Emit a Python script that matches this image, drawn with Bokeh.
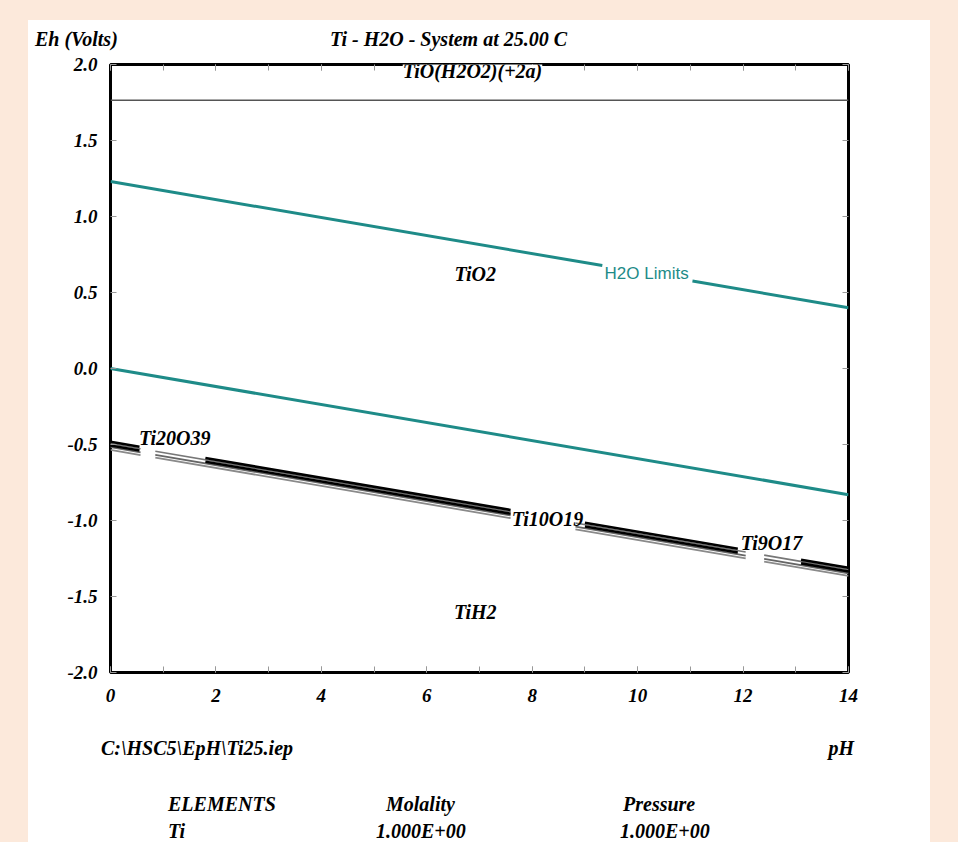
from bokeh.plotting import figure
from bokeh.models import Label, LinearAxis, FixedTicker, PrintfTickFormatter, Spacer, Div
from bokeh.layouts import column, row
from bokeh.embed import file_html
from bokeh.resources import INLINE

# ---------------- data ----------------
ph_major = [0, 2, 4, 6, 8, 10, 12, 14]
ph_minor = [0, 1, 2, 3, 4, 5, 6, 7, 8, 9, 10, 11, 12, 13, 14]
eh_ticks = [-2.0, -1.5, -1.0, -0.5, 0.0, 0.5, 1.0, 1.5, 2.0]

# TiO2 / TiO(H2O2)(+2a) boundary
peroxo_ph = [0.0, 14.0]
peroxo_eh = [1.765, 1.765]

# H2O stability limits (upper line broken by its label)
h2o_upper_ph = [[0.0, 9.33], [11.04, 14.0]]
h2o_upper_eh = [[1.23, 0.677], [0.575, 0.40]]
h2o_lower_ph = [0.0, 14.0]
h2o_lower_eh = [0.0, -0.83]

# sub-oxide boundary bands (centre of band): heavy and light strokes
heavy_ph0 = [0.0, 1.8, 9.0, 13.1]
heavy_ph1 = [0.55, 7.59, 11.9, 14.0]
heavy_eh0 = [-0.51, -0.617, -1.043, -1.286]
heavy_eh1 = [-0.543, -0.959, -1.214, -1.339]
light_ph0 = [0.0, 0.85, 8.82, 12.4]
light_ph1 = [0.57, 7.59, 12.05, 14.0]
light_eh0 = [-0.51, -0.56, -1.032, -1.244]
light_eh1 = [-0.544, -0.959, -1.223, -1.339]

species_names = ["TiO2", "Ti20O39", "Ti10O19", "Ti9O17", "TiH2"]
species_ph = [6.92, 1.22, 8.29, 12.54, 6.92]
species_eh = [0.625, -0.455, -0.987, -1.151, -1.605]

title_text = "Ti - H2O - System at 25.00 C"
y_title = "Eh (Volts)"
x_title = "pH"
file_text = "C:\\HSC5\\EpH\\Ti25.iep"
table_head = ["ELEMENTS", "Molality", "Pressure"]
table_row = ["Ti", "1.000E+00", "1.000E+00"]

# ---------------- styling ----------------
TEAL = "#1e8b88"
PEACH = "#fce9db"
SERIF = "Liberation Serif"
FS = "20px"
TICK_FS = "19px"
PANEL_W = 902

p = figure(frame_width=738, frame_height=608,
           min_border_left=82, min_border_right=82,
           min_border_top=12, min_border_bottom=50,
           x_range=(0, 14), y_range=(-2, 2),
           output_backend="svg", toolbar_location=None,
           background_fill_color="white", border_fill_color="white")
p.grid.visible = False
p.outline_line_color = "black"
p.outline_line_width = 3


def style_axis(ax, labels=True):
    ax.axis_line_color = None
    ax.major_tick_in = 6
    ax.major_tick_out = 0
    ax.minor_tick_in = 6
    ax.minor_tick_out = 0
    ax.major_tick_line_color = "#999999"
    ax.minor_tick_line_color = "#999999"
    ax.major_label_text_font = SERIF
    ax.major_label_text_font_style = "bold italic"
    ax.major_label_text_font_size = TICK_FS
    ax.major_label_text_color = "black" if labels else None


xb = p.xaxis[0]
xb.ticker = FixedTicker(ticks=ph_major, minor_ticks=ph_minor)
style_axis(xb)
xb.major_label_standoff = 16

yl = p.yaxis[0]
yl.ticker = FixedTicker(ticks=eh_ticks, minor_ticks=[])
yl.formatter = PrintfTickFormatter(format="%.1f")
style_axis(yl)
yl.major_label_standoff = 13

xt = LinearAxis(ticker=FixedTicker(ticks=ph_major, minor_ticks=ph_minor))
style_axis(xt, labels=False)
xt.major_label_text_font_size = "0px"
xt.major_label_standoff = 0
p.add_layout(xt, "above")

yr = LinearAxis(ticker=FixedTicker(ticks=eh_ticks, minor_ticks=[]))
style_axis(yr, labels=False)
yr.major_label_text_font_size = "0px"
yr.major_label_standoff = 0
p.add_layout(yr, "right")

# peroxo boundary
p.line(peroxo_ph, peroxo_eh, line_color="#555555", line_width=1.5)

# water limits
p.multi_line(h2o_upper_ph, h2o_upper_eh, line_color=TEAL, line_width=3)
p.line(h2o_lower_ph, h2o_lower_eh, line_color=TEAL, line_width=3)

# sub-oxide bands: striped strokes
for off, col, w in ((0.016, "#777777", 1.6), (-0.008, "#666666", 1.8), (-0.026, "#8a8a8a", 1.8)):
    p.segment(x0=light_ph0, x1=light_ph1,
              y0=[e + off for e in light_eh0], y1=[e + off for e in light_eh1],
              line_color=col, line_width=w)
for off in (0.028, 0.004):
    p.segment(x0=heavy_ph0, x1=heavy_ph1,
              y0=[e + off for e in heavy_eh0], y1=[e + off for e in heavy_eh1],
              line_color="black", line_width=2.6)

# species labels
for name, x, y in zip(species_names, species_ph, species_eh):
    p.add_layout(Label(x=x, y=y, text=name, text_align="center", text_baseline="middle",
                       text_font=SERIF, text_font_style="bold italic", text_font_size=FS,
                       text_color="black"))

p.add_layout(Label(x=6.867, y=1.958, text="TiO(H2O2)(+2a)", text_align="center",
                   text_baseline="middle", text_font=SERIF, text_font_style="bold italic",
                   text_font_size=FS, text_color="black",
                   background_fill_color="white", border_line_color=None))

p.add_layout(Label(x=10.17, y=0.625, text="H2O Limits", text_align="center",
                   text_baseline="middle", text_font="Liberation Sans",
                   text_font_size="17px", text_color=TEAL))

# ---------------- texts around the diagram (header / footer) ----------------
SPAN = ("position:absolute;white-space:nowrap;line-height:1;transform:translateY(-50%%);"
        "font-family:'Liberation Serif';font-weight:bold;font-style:italic;font-size:20px;"
        "color:black;%s")


def span(text, left=None, top=0, right=None):
    pos = ("left:%dpx;" % left) if left is not None else ("right:%dpx;" % right)
    return '<span style="%s">%s</span>' % (SPAN % (pos + "top:%dpx;" % top), text)


def box(h, inner):
    return ('<div style="position:relative;width:%dpx;height:%dpx;background:white;">%s</div>'
            % (PANEL_W, h, "".join(inner)))


header = Div(text=box(32, [span(y_title, left=7, top=19), span(title_text, left=302, top=19)]),
             width=PANEL_W, height=32, margin=0, styles={"background-color": "white"})

footer = Div(text=box(120, [
    span(file_text, left=73, top=26),
    span(x_title, right=76, top=26),
    span(table_head[0], left=140, top=82),
    span(table_head[1], left=358, top=82),
    span(table_head[2], left=595, top=82),
    span(table_row[0], left=140, top=109),
    span(table_row[1], left=348, top=109),
    span(table_row[2], left=592, top=109),
]), width=PANEL_W, height=120, margin=0, styles={"background-color": "white"})

panel = column(header, p, footer, spacing=0, styles={"background-color": "white"})
layout = column(Spacer(height=20, width=10, margin=0),
                row(Spacer(width=28, height=10, margin=0), panel, spacing=0), spacing=0)

html = file_html(layout, INLINE)
html = html.replace("</head>", "<style>html,body{background:%s;}</style></head>" % PEACH, 1)
open("out.html", "w").write(html)
